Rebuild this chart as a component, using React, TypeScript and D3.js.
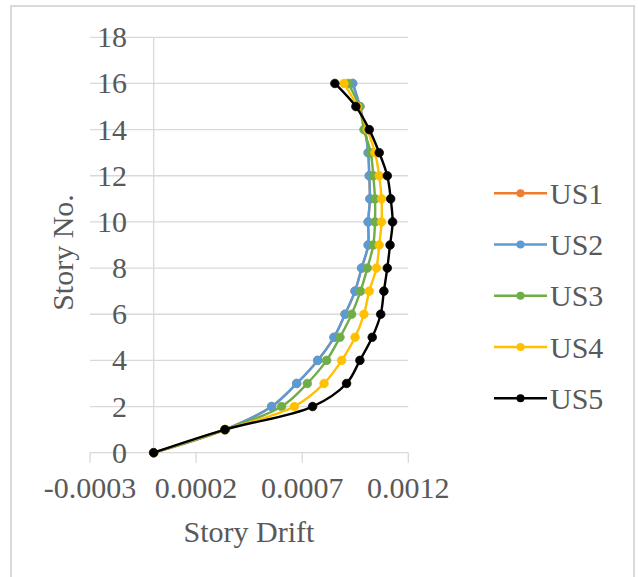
import React from "react";
import * as d3 from "d3";

const stories = [0, 1, 2, 3, 4, 5, 6, 7, 8, 9, 10, 11, 12, 13, 14, 15, 16];
const seriesNames = ["US1", "US2", "US3", "US4", "US5"];
const seriesColors = ["#ED7D31", "#5B9BD5", "#70AD47", "#FFC000", "#000000"];

const us1 = [0, 0.000336, 0.000556, 0.000674, 0.000773, 0.00085, 0.000902, 0.000949, 0.00098, 0.001011, 0.001011, 0.001019, 0.001016, 0.001011, 0.000996, 0.000972, 0.000938];
const us2 = [0, 0.000336, 0.000556, 0.000674, 0.000773, 0.00085, 0.000902, 0.000949, 0.00098, 0.001011, 0.001011, 0.001019, 0.001016, 0.001011, 0.000996, 0.000972, 0.000938];
const us3 = [0, 0.000336, 0.000603, 0.000724, 0.000815, 0.000878, 0.000933, 0.000975, 0.001007, 0.001035, 0.001043, 0.001043, 0.001035, 0.001023, 0.000991, 0.000969, 0.000917];
const us4 = [0, 0.000336, 0.000663, 0.000803, 0.000886, 0.000949, 0.000991, 0.001016, 0.00105, 0.001063, 0.001074, 0.001074, 0.001063, 0.001043, 0.001007, 0.00096, 0.000897];
const us5 = [0, 0.000336, 0.000749, 0.000909, 0.000972, 0.00103, 0.00107, 0.001085, 0.001101, 0.001114, 0.001126, 0.001117, 0.001101, 0.001063, 0.001016, 0.000953, 0.000854];
const seriesValues = [us1, us2, us3, us4, us5];

const xTickValues = [-0.0003, 0.0002, 0.0007, 0.0012];
const xTickLabels = ["-0.0003", "0.0002", "0.0007", "0.0012"];
const yTickValues = [0, 2, 4, 6, 8, 10, 12, 14, 16, 18];

const FONT = "'Liberation Serif', 'Times New Roman', serif";
const TEXT = "#595959";
const GRID = "#d9d9d9";

export default function App() {
  const x = d3.scaleLinear().domain([-0.0003, 0.0012]).range([90, 408.3]);
  const y = d3.scaleLinear().domain([0, 18]).range([452.7, 37.3]);
  const line = d3
    .line<[number, number]>()
    .x((d) => x(d[0]))
    .y((d) => y(d[1]))
    .curve(d3.curveCatmullRom.alpha(0.5));

  const legendY = (i: number) => 193.3 + i * 51.25;

  return (
    <svg
      width={638}
      height={577}
      style={{ position: "absolute", left: 0, top: 0, background: "#fff" }}
    >
      <rect x={0} y={0} width={638} height={577} fill="#fff" />
      <rect x={11} y={6} width={623} height={600} fill="#fff" stroke={GRID} strokeWidth={2} />
      {yTickValues.filter((v) => v !== 0).map((v) => (
        <line key={"g" + v} x1={x(-0.0003)} x2={x(0.0012)} y1={y(v)} y2={y(v)} stroke={GRID} strokeWidth={1.3} />
      ))}
      <line x1={x(0)} x2={x(0)} y1={y(18)} y2={y(0)} stroke={GRID} strokeWidth={1.3} />
      <line x1={x(-0.0003)} x2={x(0.0012)} y1={y(0)} y2={y(0)} stroke={GRID} strokeWidth={1.3} />
      {xTickValues.map((v) => (
        <line key={"t" + v} x1={x(v)} x2={x(v)} y1={y(0)} y2={y(0) + 10} stroke={GRID} strokeWidth={1.3} />
      ))}
      {yTickValues.map((v) => (
        <text key={"yl" + v} x={127} y={y(v) + 10} textAnchor="end" fontFamily={FONT} fontSize={30} fill={TEXT}>
          {v}
        </text>
      ))}
      {xTickValues.map((v, i) => (
        <text key={"xl" + v} x={x(v)} y={498} textAnchor="middle" fontFamily={FONT} fontSize={30} fill={TEXT}>
          {xTickLabels[i]}
        </text>
      ))}
      <text x={249} y={541.7} textAnchor="middle" fontFamily={FONT} fontSize={30} fill={TEXT}>
        Story Drift
      </text>
      <text
        transform="translate(73,252.5) rotate(-90)"
        textAnchor="middle"
        fontFamily={FONT}
        fontSize={30}
        fill={TEXT}
      >
        Story No.
      </text>
      {seriesValues.map((vals, si) => {
        const pts: [number, number][] = vals.map((v, i) => [v, stories[i]]);
        return (
          <g key={"s" + si}>
            <path d={line(pts) || ""} fill="none" stroke={seriesColors[si]} strokeWidth={2.4} />
            {pts.map((p, i) => (
              <circle key={i} cx={x(p[0])} cy={y(p[1])} r={4.3} fill={seriesColors[si]} stroke={seriesColors[si]} strokeWidth={0.75} />
            ))}
          </g>
        );
      })}
      {seriesNames.map((name, i) => (
        <g key={"lg" + name}>
          <line x1={494} x2={547} y1={legendY(i)} y2={legendY(i)} stroke={seriesColors[i]} strokeWidth={2.4} />
          <circle cx={520.5} cy={legendY(i)} r={4} fill={seriesColors[i]} />
          <text x={550} y={legendY(i) + 10.5} fontFamily={FONT} fontSize={30} fill={TEXT}>
            {name}
          </text>
        </g>
      ))}
    </svg>
  );
}
